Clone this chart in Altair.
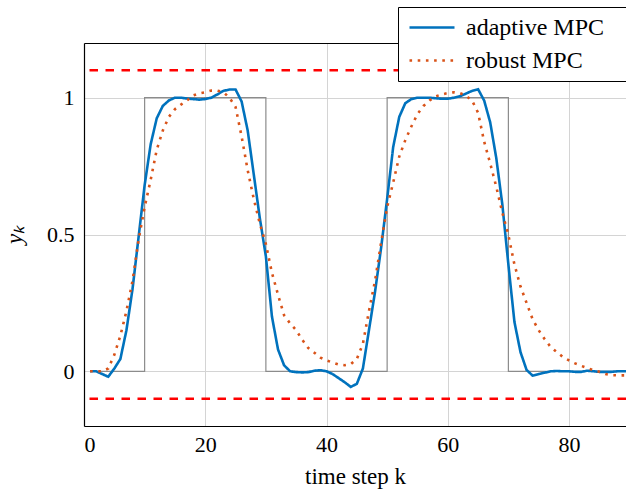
import altair as alt
import pandas as pd

FONT = "Liberation Serif"

series = ["adaptive MPC", "robust MPC"]
series_colors = ["#0072BD", "#D95319"]

k_steps = list(range(1, 91))

adaptive = [
    0.0, 0.0, -0.01, -0.02, 0.01, 0.045, 0.15, 0.30, 0.49, 0.68,
    0.83, 0.925, 0.97, 0.99, 1.0, 1.0, 0.997, 0.995, 0.993, 0.995,
    1.0, 1.012, 1.025, 1.03, 1.03, 0.986, 0.88, 0.72, 0.56, 0.42,
    0.20, 0.08, 0.022, 0.0, -0.003, -0.004, -0.003, 0.002, 0.004, 0.0,
    -0.01, -0.025, -0.04, -0.057, -0.046, 0.01, 0.15, 0.29, 0.45, 0.63,
    0.82, 0.93, 0.98, 0.995, 1.0, 1.0, 1.0, 0.998, 0.996, 0.996,
    1.0, 1.005, 1.015, 1.025, 1.031, 0.99, 0.91, 0.78, 0.61, 0.39,
    0.18, 0.07, 0.005, -0.016, -0.01, -0.005, 0.0, 0.001, 0.0, 0.0,
    -0.002, -0.002, 0.002, 0.0, -0.002, -0.002, -0.002, 0.0, 0.0, 0.0,
]

robust = [
    0.0, 0.0, 0.0, 0.01, 0.06, 0.13, 0.22, 0.33, 0.48, 0.60,
    0.70, 0.81, 0.88, 0.93, 0.958, 0.975, 0.99, 1.008, 1.016, 1.02,
    1.026, 1.026, 1.02, 1.0, 0.966, 0.858, 0.735, 0.63, 0.54, 0.465,
    0.36, 0.28, 0.205, 0.175, 0.15, 0.115, 0.085, 0.068, 0.05, 0.04,
    0.032, 0.025, 0.022, 0.026, 0.045, 0.10, 0.22, 0.33, 0.47, 0.60,
    0.69, 0.785, 0.845, 0.895, 0.94, 0.97, 0.99, 1.005, 1.012, 1.017,
    1.02, 1.017, 1.007, 0.99, 0.945, 0.84, 0.76, 0.675, 0.58, 0.498,
    0.39, 0.31, 0.25, 0.19, 0.15, 0.117, 0.088, 0.07, 0.052, 0.04,
    0.029, 0.02, 0.012, 0.004, -0.002, -0.01, -0.014, -0.015, -0.015, -0.015,
]

ref_k = [1, 10, 30, 50, 70, 90]
ref_y = [0, 1, 0, 1, 0, 0]

bounds = [1.1, -0.1]

x_ticks = [0, 20, 40, 60, 80]
y_ticks = [0, 0.5, 1]

df = pd.DataFrame({
    "k": k_steps + k_steps,
    "y": adaptive + robust,
    "series": [series[0]] * len(k_steps) + [series[1]] * len(k_steps),
})
df_ref = pd.DataFrame({"k": ref_k, "y": ref_y})
df_bounds = pd.DataFrame({"y": bounds})

xs = alt.Scale(domain=[0, 89.4], nice=False, zero=False)
ys = alt.Scale(domain=[-0.2, 1.2], nice=False, zero=False)

y_enc = alt.Y(
    "y:Q", scale=ys,
    axis=alt.Axis(values=y_ticks, format="~g", grid=True, title="yₖ",
                  titleFontStyle="italic", labelPadding=10, titlePadding=20),
)

ref = alt.Chart(df_ref).mark_line(
    interpolate="step-after", color="#8c8c8c", strokeWidth=1.2, clip=True
).encode(
    x=alt.X("k:Q", scale=xs,
            axis=alt.Axis(orient="top", labels=False, ticks=False, grid=False,
                          title=None, domainColor="black")),
    y=y_enc,
)

rules = alt.Chart(df_bounds).mark_rule(
    color="#ff0000", strokeWidth=2.5, strokeDash=[8.5, 7.5]
).encode(y=y_enc)

# long horizontal stroke symbol (custom path scaled by sqrt(size)/2)
LEG_SYMBOL = "M-1,0H4"

legend = alt.Legend(
    title=None,
    symbolType=LEG_SYMBOL,
    labelExpr="datum.label + '\u00a0\u00a0\u00a0\u200b'",
)

lines = alt.Chart(df).mark_line(strokeWidth=2.6, clip=True).encode(
    x=alt.X("k:Q", scale=xs,
            axis=alt.Axis(values=x_ticks, grid=True, title="time step k",
                          labelPadding=8, titlePadding=10)),
    y=y_enc,
    color=alt.Color("series:N",
                    scale=alt.Scale(domain=series, range=series_colors),
                    legend=legend),
    strokeDash=alt.StrokeDash("series:N",
                              scale=alt.Scale(domain=series, range=[[1, 0], [2.6, 5.6]]),
                              legend=legend),
    order=alt.Order("series:N"),
)

chart = alt.layer(ref, rules, lines).resolve_axis(x="independent").properties(
    width=542,
    height=383,
    autosize=alt.AutoSizeParams(type="none"),
    padding={"left": 84, "top": 43, "right": 0, "bottom": 65},
).configure_view(stroke=None).configure_axis(
    labelFont=FONT, labelFontSize=22, labelColor="black",
    titleFont=FONT, titleFontSize=23, titleFontWeight="normal", titleColor="black",
    gridColor="#d4d4d4", gridWidth=1, domainColor="black", domainWidth=1.2,
    ticks=False,
).configure_legend(
    orient="none", legendX=314, legendY=-36,
    strokeColor="black", fillColor="white", padding=8.5, cornerRadius=0,
    symbolType=LEG_SYMBOL, symbolSize=324, symbolStrokeWidth=2.6,
    symbolFillColor="transparent",
    labelFont=FONT, labelFontSize=24, labelColor="black", labelOffset=35.5,
    rowPadding=9, labelLimit=400,
)

chart.save("out.html", embed_options={"renderer": "svg", "actions": False})
